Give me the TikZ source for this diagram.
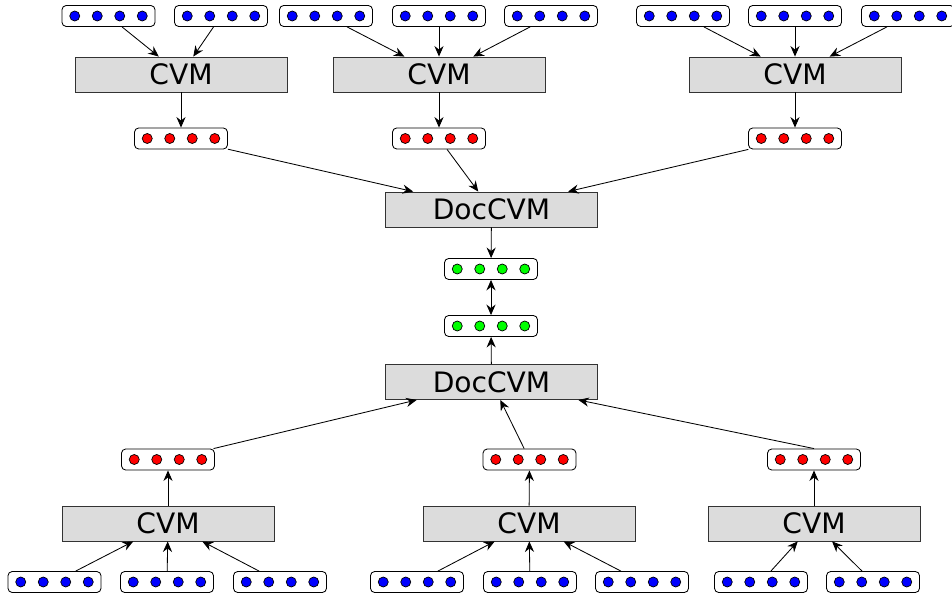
\documentclass[tikz,border=0pt]{standalone}
\usepackage{fontspec}
\setsansfont{DejaVu Sans}
\definecolor{boxgrey}{RGB}{220,220,220}
\definecolor{wordunit}{RGB}{0,0,255}
\definecolor{sentunit}{RGB}{255,0,0}
\definecolor{docunit}{RGB}{0,255,0}
\usetikzlibrary{arrows.meta}
\tikzset{
  vecbox/.style={draw, rounded corners=3pt, fill=white, inner sep=0pt,
    minimum width=2.325cm, minimum height=0.525cm, line width=0.6pt},
  unit/.style={draw, circle, inner sep=0pt, minimum size=0.25cm, line width=0.5pt},
  cvmbox/.style={draw=black!80, fill=boxgrey, inner sep=0pt, line width=0.6pt,
    minimum width=5.3cm, minimum height=0.875cm,
    font=\sffamily\fontsize{20}{24}\selectfont},
  tip/.tip={Stealth[length=7.5pt, width=6.5pt, inset=2.5pt]},
  link/.style={-tip, line width=0.6pt}
}
% a vector of four units: name, position, colour
\newcommand*{\vecnode}[3]{%
  \node [vecbox] (#1) at #2 {};
  \foreach \dx in {-24,-8,8,24}
    \node [unit, fill=#3] at ([xshift=\dx pt]#1.center) {};
}

\begin{document}
\begin{tikzpicture}[x=0.025cm, y=-0.025cm]
    \useasboundingbox (0,0) rectangle (952,596);
    % upper document
    \vecnode{w1}{(108.5,16)}{wordunit}
    \vecnode{w2}{(221,16)}{wordunit}
    \vecnode{w3}{(326,16)}{wordunit}
    \vecnode{w4}{(439,16)}{wordunit}
    \vecnode{w5}{(551,16)}{wordunit}
    \vecnode{w6}{(683,16)}{wordunit}
    \vecnode{w7}{(795,16)}{wordunit}
    \vecnode{w8}{(908,16)}{wordunit}
    \node [cvmbox] (c1) at (181,74.5) {CVM};
    \node [cvmbox] (c2) at (439,74.5) {CVM};
    \node [cvmbox] (c3) at (795,74.5) {CVM};
    \vecnode{s1}{(181,138.5)}{sentunit}
    \vecnode{s2}{(439,138.5)}{sentunit}
    \vecnode{s3}{(795,138.5)}{sentunit}
    \node [cvmbox] (doc) at (491.5,209.5) {DocCVM};
    \vecnode{g1}{(491,269)}{docunit}
    % lower document
    \vecnode{g2}{(491,326)}{docunit}
    \node [cvmbox] (bdoc) at (491.5,382) {DocCVM};
    \vecnode{bs1}{(168,459.5)}{sentunit}
    \vecnode{bs2}{(529.5,459.5)}{sentunit}
    \vecnode{bs3}{(814,459.5)}{sentunit}
    \node [cvmbox] (bc1) at (168,523.5) {CVM};
    \node [cvmbox] (bc2) at (529,523.5) {CVM};
    \node [cvmbox] (bc3) at (814,523.5) {CVM};
    \vecnode{bw1}{(54.5,582)}{wordunit}
    \vecnode{bw2}{(167,582)}{wordunit}
    \vecnode{bw3}{(280,582)}{wordunit}
    \vecnode{bw4}{(417,582)}{wordunit}
    \vecnode{bw5}{(530,582)}{wordunit}
    \vecnode{bw6}{(642,582)}{wordunit}
    \vecnode{bw7}{(761,582)}{wordunit}
    \vecnode{bw8}{(873,582)}{wordunit}
    % connectors
    \foreach \a/\b in {w1/c1, w2/c1, w3/c2, w4/c2, w5/c2, w6/c3, w7/c3, w8/c3,
                       c1/s1, c2/s2, c3/s3, s1/doc, s2/doc, s3/doc, doc/g1,
                       bw1/bc1, bw2/bc1, bw3/bc1, bw4/bc2, bw5/bc2, bw6/bc2,
                       bw7/bc3, bw8/bc3, bc1/bs1, bc2/bs2, bc3/bs3,
                       bs1/bdoc, bs2/bdoc, bs3.north/bdoc, bdoc/g2}
        \draw [link] (\a) -- (\b);
    \draw [link, tip-tip] (g1) -- (g2);
\end{tikzpicture}
\end{document}
